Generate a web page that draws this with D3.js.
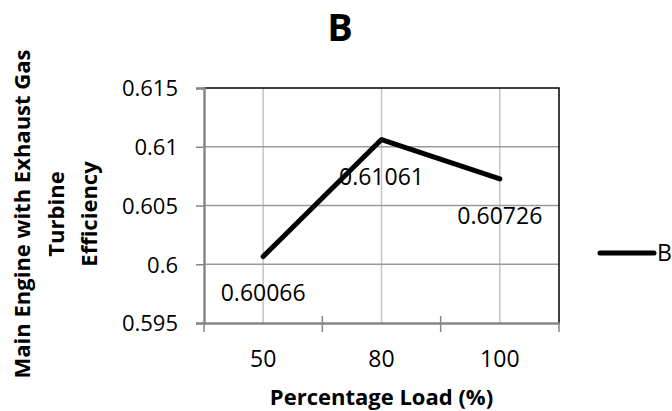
<!DOCTYPE html>
<html>
<head>
<meta charset="utf-8">
<script src="https://cdn.jsdelivr.net/npm/d3@7"></script>
<style>
  body { margin: 0; background: #fff; }
  text { font-family: "Open Sans", sans-serif; fill: #000; }
</style>
</head>
<body>
<div id="chart"></div>
<script>
// data
let loads = ["50", "80", "100"]
let efficiency = [0.60066, 0.61061, 0.60726]
let yTicks = [0.595, 0.6, 0.605, 0.61, 0.615]
let seriesName = "B"

;(function () {
    let w = 672
    let h = 411
    let left = 204, right = 559, top = 88, bottom = 323

    let svg = d3.select("#chart")
        .append("svg")
        .attr("width", w)
        .attr("height", h)

    let dataset = loads.map((l, i) => ({ load: l, value: efficiency[i] }))

    let x = d3.scaleBand()
        .domain(loads)
        .range([left, right])
        .padding(0)

    let y = d3.scaleLinear()
        .domain([0.595, 0.615])
        .range([bottom, top])

    // vertical gridlines at category centres
    svg.append("g")
        .selectAll("line")
        .data(loads)
        .join("line")
        .attr("x1", d => x(d) + x.bandwidth() / 2)
        .attr("x2", d => x(d) + x.bandwidth() / 2)
        .attr("y1", top)
        .attr("y2", bottom)
        .style("stroke", "#c4c4c4")
        .style("stroke-width", 1.5)

    // horizontal gridlines
    svg.append("g")
        .selectAll("line")
        .data(yTicks.slice(1, -1))
        .join("line")
        .attr("x1", left)
        .attr("x2", right)
        .attr("y1", d => y(d))
        .attr("y2", d => y(d))
        .style("stroke", "#9a9a9a")
        .style("stroke-width", 1.5)

    // plot area border (top and right)
    svg.append("path")
        .attr("d", `M${left},${y(0.615)}H${right}V${bottom}`)
        .style("fill", "none")
        .style("stroke", "#000")
        .style("stroke-width", 1.5)

    // y axis
    let yAxis = d3.axisLeft(y)
        .tickValues(yTicks)
        .tickSize(8)
        .tickPadding(18)
        .tickFormat(d => String(+d.toFixed(3)))

    let gy = svg.append("g")
        .attr("transform", "translate(" + left + ",0)")
        .call(yAxis)
    gy.select(".domain").style("stroke", "#868686").style("stroke-width", 2.5)
    gy.selectAll(".tick line").style("stroke", "#868686").style("stroke-width", 1.5)
    gy.selectAll("text")
        .style("font-size", "22px")
        .style("font-family", "Open Sans")
        .attr("dy", "0.36em")

    // x axis, ticks between categories
    let xAxis = d3.axisBottom(x)
        .tickSize(0)
        .tickPadding(25)

    let gx = svg.append("g")
        .attr("transform", "translate(0," + bottom + ")")
        .call(xAxis)
    gx.select(".domain").style("stroke", "#868686").style("stroke-width", 2.5)
    gx.selectAll("text")
        .style("font-size", "23px")
        .style("font-family", "Open Sans")
        .attr("dy", "0")
        .attr("y", 44)

    let bounds = loads.map(d => x(d)).concat([x(loads[loads.length - 1]) + x.bandwidth()])
    gx.selectAll(".bound")
        .data(bounds)
        .join("line")
        .attr("class", "bound")
        .attr("x1", d => d)
        .attr("x2", d => d)
        .attr("y1", (d, i) => (i == 0 || i == bounds.length - 1) ? 0 : -7)
        .attr("y2", 9)
        .style("stroke", "#868686")
        .style("stroke-width", 1.5)

    // line
    let line = d3.line()
        .x(d => x(d.load) + x.bandwidth() / 2)
        .y(d => y(d.value))

    svg.append("path")
        .datum(dataset)
        .attr("d", line)
        .style("fill", "none")
        .style("stroke", "#000")
        .style("stroke-width", 5)
        .style("stroke-linecap", "round")
        .style("stroke-linejoin", "round")

    // data labels under each point
    svg.append("g")
        .selectAll("text")
        .data(dataset)
        .join("text")
        .attr("x", d => x(d.load) + x.bandwidth() / 2)
        .attr("y", d => y(d.value) + 45)
        .style("text-anchor", "middle")
        .style("font-size", "23px")
        .text(d => d.value)

    // title
    svg.append("text")
        .attr("x", 340)
        .attr("y", 41)
        .style("text-anchor", "middle")
        .style("font-size", "38px")
        .style("font-weight", "bold")
        .text(seriesName)

    // y axis title, three lines
    let yTitle = ["Main Engine with Exhaust Gas", "Turbine", "Efficiency"]
    svg.append("g")
        .selectAll("text")
        .data(yTitle)
        .join("text")
        .attr("transform", (d, i) => "translate(" + (30 + i * 33.5) + ",214) rotate(-90)")
        .style("text-anchor", "middle")
        .style("font-size", "22px")
        .style("font-weight", "bold")
        .text(d => d)

    // x axis title
    svg.append("text")
        .attr("x", (left + right) / 2)
        .attr("y", 405)
        .style("text-anchor", "middle")
        .style("font-size", "22px")
        .style("font-weight", "bold")
        .text("Percentage Load (%)")

    // legend
    let legend = svg.append("g").attr("transform", "translate(600,253)")
    legend.append("line")
        .attr("x1", 0)
        .attr("x2", 54)
        .style("stroke", "#000")
        .style("stroke-width", 5)
        .style("stroke-linecap", "round")
    legend.append("text")
        .attr("x", 57)
        .attr("dy", "0.36em")
        .style("font-size", "23px")
        .text(seriesName)
})()
</script>
</body>
</html>
